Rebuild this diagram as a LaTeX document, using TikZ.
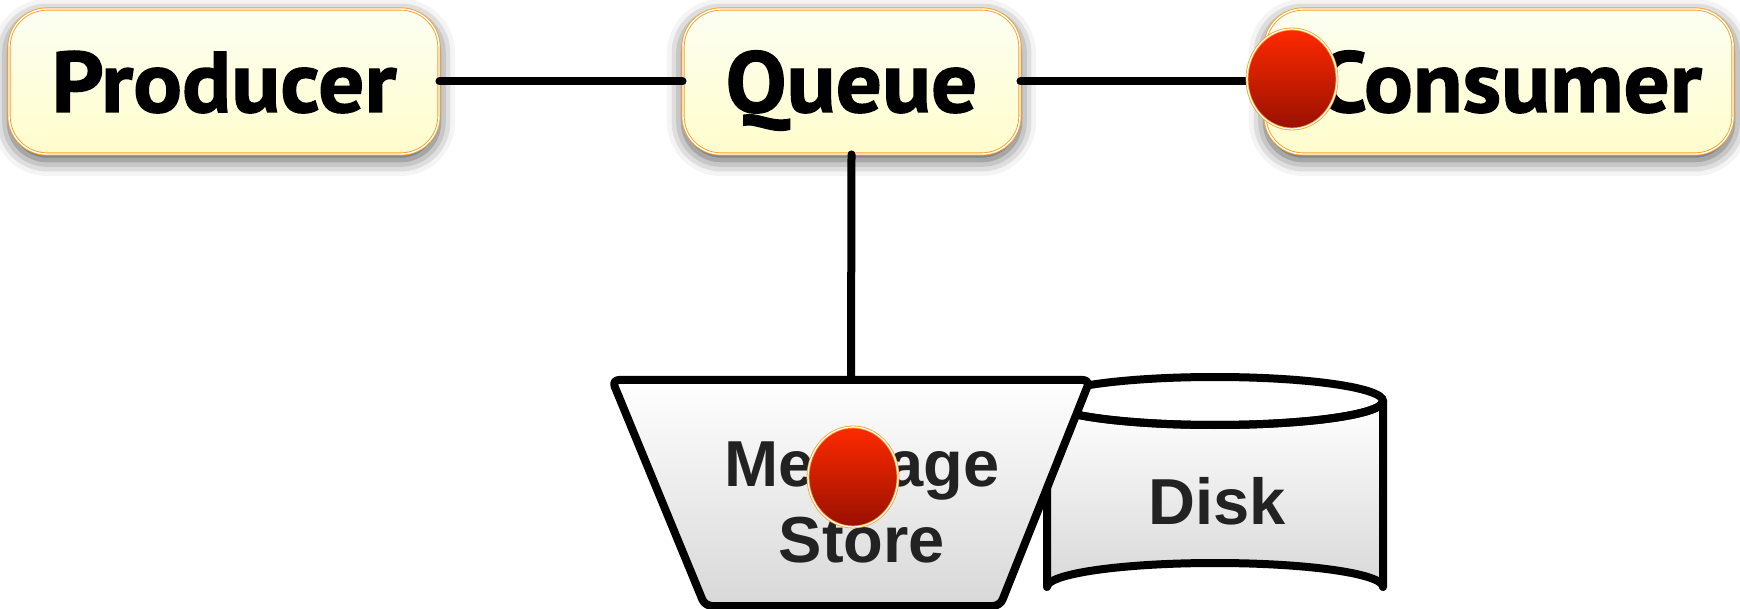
\documentclass[tikz,border=0pt]{standalone}
\usepackage{fontspec}
\setmainfont{PT Sans}[BoldFeatures={FakeBold=1.6,FakeStretch=1.06}]
\newfontfamily\helv{Liberation Sans}
\usetikzlibrary{shapes.geometric,shadows.blur}
\definecolor{boxtop}{HTML}{FCFFF2}
\definecolor{boxbot}{HTML}{FFFDCC}
\definecolor{boxedge}{HTML}{F5A02A}
\definecolor{redtop}{HTML}{FF2A00}
\definecolor{redbot}{HTML}{981000}
\definecolor{storetxt}{HTML}{222222}
\definecolor{graybot}{HTML}{D8D8D8}
\tikzset{
  ybox/.style={rectangle, rounded corners=38pt, draw=boxedge, line width=0.9pt,
    double=white, double distance=1.4pt, top color=boxtop, bottom color=boxbot,
    minimum height=145pt, text height=61pt, text depth=0pt, inner sep=0pt,
    font=\fontsize{86}{86}\selectfont\bfseries,
    blur shadow={shadow xshift=0pt, shadow yshift=-6pt, shadow blur radius=16pt, shadow opacity=70}},
  conn/.style={line width=8pt, line cap=round},
  dot/.style={ellipse, minimum width=90pt, minimum height=100pt, inner sep=0pt,
    draw=boxedge, line width=0.8pt, double=white, double distance=1.2pt,
    top color=redtop, bottom color=redbot},
  shape3d/.style={draw, line width=8pt, line join=round, top color=white, bottom color=graybot},
  storefont/.style={font=\helv\fontsize{65}{76}\selectfont\bfseries, text=storetxt, align=center}
}
\begin{document}
\begin{tikzpicture}[x=1pt,y=-1pt]
\useasboundingbox (0,0) rectangle (1740,609);
% disk
\path[shape3d] (1047,401) -- (1047,587) arc[start angle=180, end angle=360, x radius=168, y radius=24]
  -- (1383,401) arc[start angle=0, end angle=180, x radius=168, y radius=24] -- cycle;
\draw[line width=8pt] (1215,401) ellipse[x radius=168, y radius=24];
\node[storefont] (disk) at (1217,501) {Disk};
% message store
\path[shape3d, rounded corners=7pt] (612,380) -- (1090,380) -- (1000,606) -- (705,606) -- cycle;
\coordinate (storetop) at (851,380);
\node[storefont] (store) at (862,502) {Message\\Store};
% boxes
\node[ybox, minimum width=430pt] (producer) at (224,81.5) {Producer};
\node[ybox, minimum width=337pt] (queue) at (851.5,81.5) {Queue};
\node[ybox, minimum width=468pt] (consumer) at (1499,81.5) {\hspace*{20pt}Consumer};
% connectors
\draw[conn] (producer.east) -- (queue.west);
\draw[conn] (queue.east) -- (consumer.west);
\draw[conn] (queue.south) -- (storetop);
% dots
\node[dot] (dot1) at (1292,79) {};
\node[dot] (dot2) at (853,477) {};
\end{tikzpicture}
\end{document}
